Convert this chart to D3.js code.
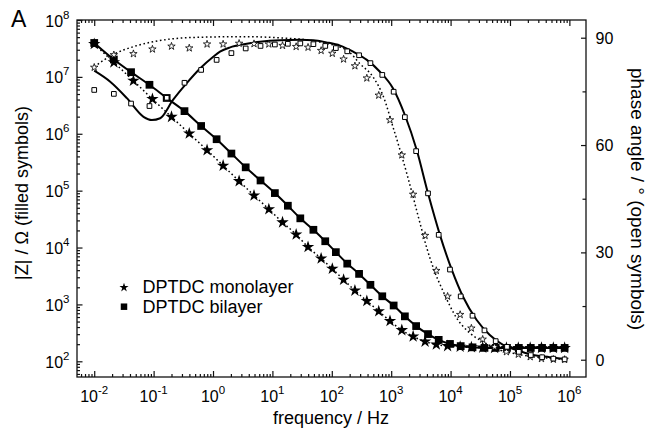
<!DOCTYPE html>
<html><head><meta charset="utf-8">
<script src="https://cdn.jsdelivr.net/npm/d3@7"></script>
<style>
body{margin:0;background:#fff}
svg{display:block}
text{font-family:"Liberation Sans",Arial,Helvetica,sans-serif;fill:#000}
</style>
</head><body>
<svg id="c" width="648" height="439"></svg>
<script>
// ---------- data ----------
// DPTDC monolayer: frequency (Hz), |Z| (Ohm), phase (deg)
const freqMono = [0.01,0.0214,0.0457,0.0955,0.2,0.398,0.794,1.48,2.75,4.9,8.71,14.8,25.1,39.8,66.1,102,158,245,389,617,955,1510,2340,3720,5750,8910,14500,22400,34700,55000,87100,138000,219000,339000,537000,832000];
const zMono = [3.78e7,1.80e7,8.55e6,4.07e6,1.98e6,1.01e6,5.15e5,2.75e5,1.47e5,8.24e4,4.72e4,2.77e4,1.70e4,1.02e4,6430,4230,2720,1750,1150,760,512,353,274,222,198,185,180,176,174,172,172,172,172,172,172,172];
const phaseMono = [81.7,85.2,85.5,86.8,87.6,87.1,88.2,88.2,88.4,88.3,88.2,87.8,87.5,87.3,86.4,85.6,84.0,82.1,78.7,73.9,67.0,57.2,46.2,34.7,24.9,17.7,12.6,8.8,5.7,3.6,2.2,1.5,0.8,0.3,0.1,0.05];
// DPTDC bilayer
const freqBi = [0.01,0.0214,0.0417,0.0851,0.166,0.331,0.631,1.15,2.04,3.55,6.31,11.0,18.2,29.5,49.0,77.6,117,182,288,447,708,1100,1700,2630,4170,6310,9770,14800,23400,37200,57500,89100,141000,224000,347000,537000,832000];
const zBi = [3.95e7,2.02e7,1.21e7,7.26e6,4.26e6,2.50e6,1.37e6,8.02e5,4.49e5,2.57e5,1.51e5,9.06e4,5.43e4,3.26e4,2.05e4,1.29e4,8300,5210,3440,2210,1390,957,617,416,301,238,202,185,176,172,172,172,172,172,172,172,172];
const phaseBi = [75.4,74.3,71.6,70.9,73.2,77.4,81.0,83.8,85.7,87.0,87.7,88.1,88.3,88.4,88.2,87.7,87.1,86.2,85.1,82.9,79.6,74.9,67.8,58.3,46.5,34.9,25.2,17.7,12.3,8.2,5.2,3.6,2.2,1.3,0.7,0.3,0.1];
// fitted phase curves
const fitFreqBi = [0.01,0.0186,0.0355,0.0676,0.0933,0.129,0.212,0.361,0.604,1.01,1.31,1.94,3.30,6.2,13.5,29.2,49,81.3,138,229,389,646,1070,1700,2690,4170,6610,10500,16200,27500,45700,77600,129000,245000,468000,891000];
const fitPhaseBi = [80.8,77.7,73.1,67.9,67.0,67.5,72.6,77.3,81.4,84.7,86.1,87.3,88.2,88.9,89.3,89.4,89.3,88.7,87.8,86.1,83.8,80.5,75.9,68.4,58.6,46.5,34.9,25.1,17.6,11.1,6.9,4.1,2.7,1.3,0.7,0.1];
const fitFreqMono = [0.01,0.0214,0.0457,0.1,0.245,0.891,3.31,15.1,38,81.3,138,200,295,501,741,1070,1410,1820,2340,3020,3980,5130,7590,12600,20900,35500,67600,129000,245000,468000,891000];
const fitPhaseMono = [81.9,85.4,87.5,88.9,89.8,90.2,90.3,89.9,89.4,88.4,87.4,85.9,82.8,78.9,73.5,65.1,58.6,52.2,45.5,38.5,31.2,25.6,18.9,11.7,7.5,5.0,2.7,1.6,0.8,0.4,0.1];
// ticks
const xMajor = [1e-2,1e-1,1e0,1e1,1e2,1e3,1e4,1e5,1e6];
const xExp = ["-2","-1","0","1","2","3","4","5","6"];
const yMajor = [1e2,1e3,1e4,1e5,1e6,1e7,1e8];
const yExp = ["2","3","4","5","6","7","8"];
const pMajor = [0,30,60,90];
const pMinor = [15,45,75];
const pLabels = ["0","30","60","90"];
const legendLabels = ["DPTDC monolayer","DPTDC bilayer"];

// ---------- layout ----------
const L=77, R=586, T=20, B=377;
const svg = d3.select("#c");
const x = d3.scaleLog().domain([Math.pow(10,-2.29), Math.pow(10,6.28)]).range([L,R]);
const y = d3.scaleLog().domain([Math.pow(10,1.724), 1e8]).range([B,T]);
const yp = d3.scaleLinear().domain([-4.83, 94.95]).range([B,T]);

const isPow = v => Math.abs(Math.log10(v) - Math.round(Math.log10(v))) < 1e-6;
const xMinor = x.ticks().filter(v => !isPow(v));
const yMinor = y.ticks().filter(v => !isPow(v));

function styleAxis(g){
  g.select(".domain").remove();
  g.selectAll(".tick line").attr("stroke","#111").attr("stroke-width",1.2);
  g.selectAll(".tick text").remove();
}
// top
svg.append("g").attr("transform",`translate(0,${T})`).call(d3.axisBottom(x).tickValues(xMajor).tickSize(6).tickFormat("")).call(styleAxis);
svg.append("g").attr("transform",`translate(0,${T})`).call(d3.axisBottom(x).tickValues(xMinor).tickSize(3).tickFormat("")).call(styleAxis);
// bottom
svg.append("g").attr("transform",`translate(0,${B})`).call(d3.axisTop(x).tickValues(xMajor).tickSize(6).tickFormat("")).call(styleAxis);
svg.append("g").attr("transform",`translate(0,${B})`).call(d3.axisTop(x).tickValues(xMinor).tickSize(3).tickFormat("")).call(styleAxis);
// left
svg.append("g").attr("transform",`translate(${L},0)`).call(d3.axisRight(y).tickValues(yMajor).tickSize(5.5).tickFormat("")).call(styleAxis);
svg.append("g").attr("transform",`translate(${L},0)`).call(d3.axisRight(y).tickValues(yMinor).tickSize(3).tickFormat("")).call(styleAxis);
// right
svg.append("g").attr("transform",`translate(${R},0)`).call(d3.axisLeft(yp).tickValues(pMajor).tickSize(5).tickFormat("")).call(styleAxis);
svg.append("g").attr("transform",`translate(${R},0)`).call(d3.axisLeft(yp).tickValues(pMinor).tickSize(3.5).tickFormat("")).call(styleAxis);

// frame
svg.append("rect").attr("x",L).attr("y",T).attr("width",R-L).attr("height",B-T)
  .attr("fill","none").attr("stroke","#111").attr("stroke-width",1.3);

// tick labels
xMajor.forEach((v,i)=>{
  const t = svg.append("text").attr("x",x(v)).attr("y",401.5).attr("text-anchor","middle").attr("font-size",16);
  t.append("tspan").text("10");
  t.append("tspan").attr("dy",-8).attr("font-size",11.5).text(xExp[i]);
});
yMajor.forEach((v,i)=>{
  const t = svg.append("text").attr("x",69.5).attr("y",y(v)+6.5).attr("text-anchor","end").attr("font-size",16);
  t.append("tspan").text("10");
  t.append("tspan").attr("dy",-8).attr("font-size",11.5).text(yExp[i]);
});
pMajor.forEach((v,i)=>{
  svg.append("text").attr("x",595.5).attr("y",yp(v)+5.8).attr("font-size",16).text(pLabels[i]);
});

// axis titles
svg.append("text").attr("x",11).attr("y",26.7).attr("font-size",23).text("A");
svg.append("text").attr("x",331).attr("y",424).attr("text-anchor","middle").attr("font-size",18).text("frequency / Hz");
svg.append("text").attr("transform","translate(28,193) rotate(-90)").attr("text-anchor","middle").attr("font-size",18).text("|Z| / Ω (filled symbols)");
svg.append("text").attr("transform","translate(631,199) rotate(90)").attr("text-anchor","middle").attr("font-size",19).text("phase angle / ° (open symbols)");

// ---------- series ----------
const mono = freqMono.map((f,i)=>({f, z:zMono[i], p:phaseMono[i]}));
const bi = freqBi.map((f,i)=>({f, z:zBi[i], p:phaseBi[i]}));
const fitBi = fitFreqBi.map((f,i)=>({f, p:fitPhaseBi[i]}));
const fitMono = fitFreqMono.map((f,i)=>({f, p:fitPhaseMono[i]}));

const plot = svg.append("g");
const lineZ = d3.line().x(d=>x(d.f)).y(d=>y(d.z)).curve(d3.curveMonotoneX);
const lineP = d3.line().x(d=>x(d.f)).y(d=>yp(d.p)).curve(d3.curveMonotoneX);

function addPath(d, gen, dashed){
  const p = plot.append("path").attr("d",gen(d)).attr("fill","none").attr("stroke","#000");
  if(dashed){ p.attr("stroke-dasharray","1.6,2.6").attr("stroke-width",1.5); }
  else { p.attr("stroke-width",2); }
}
addPath(mono, lineZ, true);
addPath(fitMono, lineP, true);
addPath(bi, lineZ, false);
addPath(fitBi, lineP, false);

const starF = d3.symbol(d3.symbolStar, 48);
const sqF = d3.symbol(d3.symbolSquare, 60);
const starO = d3.symbol(d3.symbolStar, 17);
const sqO = d3.symbol(d3.symbolSquare, 22);

plot.selectAll(".ms").data(mono).join("path").attr("class","ms")
  .attr("transform",d=>`translate(${x(d.f)},${y(d.z)})`).attr("d",starF).attr("fill","#000");
plot.selectAll(".bs").data(bi).join("path").attr("class","bs")
  .attr("transform",d=>`translate(${x(d.f)},${y(d.z)})`).attr("d",sqF).attr("fill","#000");
plot.selectAll(".mo").data(mono).join("path").attr("class","mo")
  .attr("transform",d=>`translate(${x(d.f)},${yp(d.p)})`).attr("d",starO).attr("fill","#fff").attr("stroke","#000").attr("stroke-width",0.8);
plot.selectAll(".bo").data(bi).join("path").attr("class","bo")
  .attr("transform",d=>`translate(${x(d.f)},${yp(d.p)})`).attr("d",sqO).attr("fill","#fff").attr("stroke","#000").attr("stroke-width",1);

// ---------- legend ----------
const lg = svg.append("g");
lg.append("path").attr("transform","translate(124,287.5)").attr("d",d3.symbol(d3.symbolStar,26)()).attr("fill","#000");
lg.append("path").attr("transform","translate(124,306.7)").attr("d",d3.symbol(d3.symbolSquare,42)()).attr("fill","#000");
lg.append("text").attr("x",142.5).attr("y",292.7).attr("font-size",18).text(legendLabels[0]);
lg.append("text").attr("x",142.5).attr("y",312.7).attr("font-size",18).text(legendLabels[1]);
</script>
</body></html>
